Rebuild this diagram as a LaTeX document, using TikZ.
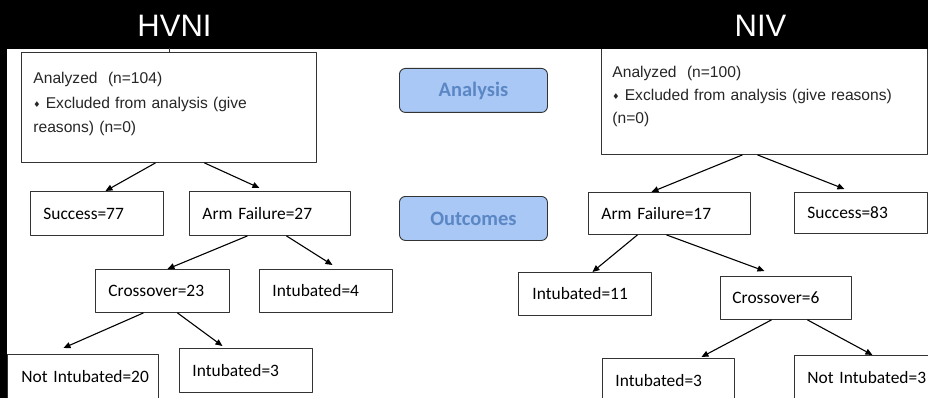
\documentclass[tikz,border=0pt]{standalone}
\usepackage{fontspec}
\setmainfont{Liberation Sans}
\newfontfamily\calibri{Carlito}
\newfontfamily\symfont{DejaVu Sans}
\usetikzlibrary{arrows.meta}
\definecolor{stageblue}{HTML}{A9C8F5}
\definecolor{stagetext}{HTML}{5B87C5}
\newcommand{\bul}{{\symfont\fontsize{8}{8}\selectfont\raisebox{1pt}{♦}}}
\hyphenpenalty=10000
\exhyphenpenalty=10000

\begin{document}
\begin{tikzpicture}[x=1pt,y=-1pt,line join=round,>={Stealth[length=7pt,width=6pt,inset=0pt]},
	box/.style={draw=black!80,line width=0.9pt,fill=white,anchor=north west,inner xsep=13pt,inner ysep=0pt,align=left,font=\calibri\fontsize{17.4}{20}\selectfont},
	listbox/.style={box,inner xsep=12pt,text=black!85,font=\fontsize{15.6}{24.5}\selectfont},
	stage/.style={draw=black!80,line width=0.9pt,rounded corners=6pt,fill=stageblue,text=stagetext,anchor=north west,minimum width=148pt,minimum height=44pt,font=\calibri\bfseries\fontsize{20.5}{24}\selectfont},
	arr/.style={->,line width=1.1pt},
	title/.style={text=white,font=\fontsize{31}{36}\selectfont}]
			\def\W{928}
			\def\H{398}
			\clip (0,0) rectangle (\W,\H);
			\fill[white] (0,0) rectangle (\W,\H);
			\fill[black] (0,49) rectangle (7,\H);
			% HVNI arm
			\node[listbox,text width=271pt,minimum height=110pt,text depth=59pt] (hAna) at (21,52) {Analyzed~~(n=104)\\ \bul\ Excluded from analysis (give reasons) (n=0)};
			\node[box,text width=107pt,minimum height=44pt] (hSucc) at (30,191) {Success=77};
			\node[box,text width=135pt,minimum height=44pt] (hArm) at (189,191) {Arm Failure=27};
			\node[box,text width=108pt,minimum height=43pt] (hCross) at (95,269) {Crossover=23};
			\node[box,text width=107pt,minimum height=43pt] (hInt4) at (259,269) {Intubated=4};
			\node[box,inner xsep=14pt,text width=123pt,minimum height=44pt] (hNot20) at (7,354) {Not~Intubated=20};
			\node[box,text width=107pt,minimum height=44pt] (hInt3) at (179,348) {Intubated=3};
			% NIV arm
			\node[listbox,inner xsep=11pt,text width=304pt,minimum height=110pt,text depth=55pt,font=\fontsize{15.6}{23}\selectfont] (nAna) at (601,44) {Analyzed~~(n=100)\\ \bul\ Excluded from analysis (give reasons)\\ (n=0)};
			\node[box,text width=136pt,minimum height=42pt] (nArm) at (588,192) {Arm Failure=17};
			\node[box,text width=107pt,minimum height=41pt] (nSucc) at (794,192) {Success=83};
			\node[box,inner xsep=14pt,text width=105pt,minimum height=43pt] (nInt11) at (518,272) {Intubated=11};
			\node[box,inner xsep=12pt,text width=107pt,minimum height=43pt] (nCross) at (720,276) {Crossover=6};
			\node[box,text width=106pt,minimum height=44pt] (nInt3) at (602,358) {Intubated=3};
			\node[box,text width=114pt,minimum height=44pt] (nNot3) at (794,355) {Not~Intubated=3};
			% stages
			\node[stage] (sAna) at (399,68) {Analysis};
			\node[stage] (sOut) at (399,196) {Outcomes};
			% header
			\fill[black] (0,0) rectangle (\W,49);
			\node[title] (tH) at (174.5,26) {HVNI};
			\node[title] (tN) at (760.5,26) {NIV};
			\draw[line width=0.9pt,black!80] (hAna.north) -- ++(0,-4);
			\draw[arr] ([xshift=-13.5]hAna.south) -- ([xshift=8.5]hSucc.north);
			\draw[arr] ([xshift=35.5]hAna.south) -- ([xshift=-10.5,yshift=3]hArm.north);
			\draw[arr] ([xshift=-22.5]hArm.south) -- ([xshift=5]hCross.north);
			\draw[arr] ([xshift=16.5]hArm.south) -- ([xshift=6.5,yshift=4]hInt4.north);
			\draw[arr] ([xshift=-19]hCross.south) -- ([xshift=-19.5,yshift=6]hNot20.north);
			\draw[arr] ([xshift=15]hCross.south) -- ([xshift=-23.5,yshift=2]hInt3.north);
			\draw[arr] ([xshift=-22]nAna.south) -- ([xshift=-18]nArm.north);
			\draw[arr] ([xshift=-7]nAna.south) -- ([xshift=-16.5,yshift=3]nSucc.north);
			\draw[arr] ([xshift=-32]nArm.south) -- ([xshift=7.5]nInt11.north);
			\draw[arr] ([xshift=-3]nArm.south) -- ([xshift=-21.5,yshift=5]nCross.north);
			\draw[arr] ([xshift=-14.5]nCross.south) -- ([xshift=33,yshift=1]nInt3.north);
			\draw[arr] ([xshift=21.5]nCross.south) -- ([xshift=8]nNot3.north);
			%	\draw (sAna) -- (sOut);
	\end{tikzpicture}
\end{document}
